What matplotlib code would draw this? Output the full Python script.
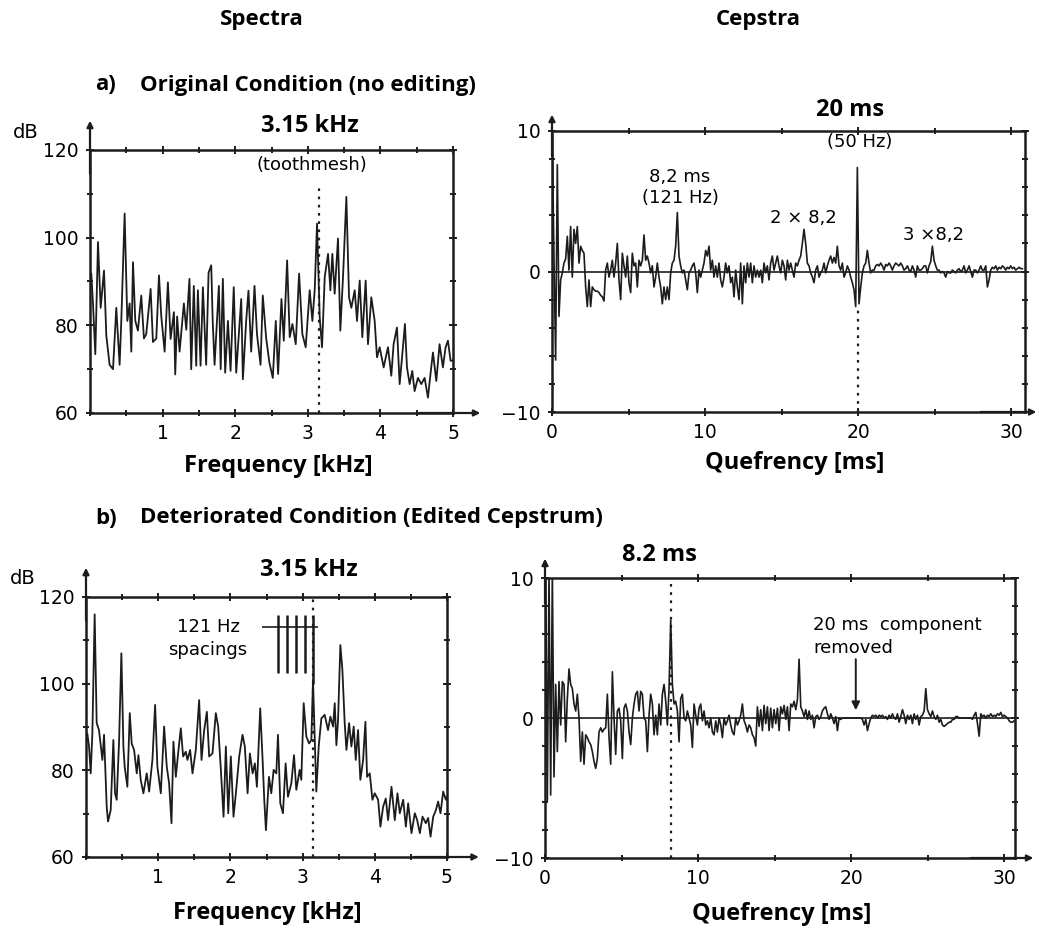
import numpy as np
import matplotlib
matplotlib.use("Agg")
import matplotlib.pyplot as plt

# ---------------- data ----------------
# a) original spectrum (kHz, dB)
freq_a = [0.0, 0.018, 0.041, 0.073, 0.11, 0.147, 0.193, 0.225, 0.27, 0.317,
          0.362, 0.408, 0.431, 0.477, 0.514, 0.546, 0.569, 0.592, 0.624, 0.66,
          0.706, 0.743, 0.775, 0.835, 0.867, 0.913, 0.95, 0.982, 1.028, 1.073,
          1.11, 1.156, 1.174, 1.2, 1.234, 1.293, 1.326, 1.37, 1.394, 1.43,
          1.463, 1.486, 1.523, 1.555, 1.6, 1.633, 1.67, 1.69, 1.716, 1.775,
          1.8, 1.83, 1.862, 1.9, 1.936, 1.98, 2.014, 2.083, 2.106, 2.151,
          2.183, 2.22, 2.266, 2.3, 2.349, 2.38, 2.427, 2.472, 2.518, 2.559,
          2.591, 2.637, 2.669, 2.715, 2.751, 2.788, 2.834, 2.88, 2.925, 2.971,
          3.026, 3.063, 3.095, 3.127, 3.164, 3.196, 3.233, 3.279, 3.311, 3.338,
          3.37, 3.416, 3.448, 3.485, 3.531, 3.568, 3.6, 3.646, 3.678, 3.715,
          3.751, 3.797, 3.829, 3.875, 3.921, 3.953, 3.99, 4.045, 4.104, 4.15,
          4.182, 4.228, 4.265, 4.302, 4.338, 4.366, 4.403, 4.439, 4.471, 4.517,
          4.563, 4.609, 4.655, 4.7, 4.724, 4.77, 4.815, 4.861, 4.898, 4.93,
          4.967, 5.0]
db_a = [90, 91.8, 85, 73.4, 99, 84, 92.5, 77.6, 71, 70,
        84, 71, 81, 105.5, 81, 85, 74, 94.4, 81, 78.8,
        86.8, 77, 78, 88.3, 76.2, 77, 91.4, 82, 74, 89.8,
        76.9, 83, 68.8, 82, 74, 85, 79, 90.6, 70, 89,
        70.8, 88, 70.8, 88.7, 71, 92, 93.7, 81, 71, 89,
        70, 90.6, 69.2, 81, 69.6, 88.7, 69.2, 86, 67.7, 81,
        87.9, 74, 89, 78, 71, 86.8, 77, 71.4, 68, 81,
        68.9, 86, 76.5, 94.8, 77.3, 80.3, 75.7, 91.8, 78, 75,
        88, 81, 88, 103.2, 81.8, 75, 91, 96.3, 88, 96.3,
        87.2, 99.8, 78.8, 91, 109.3, 86.4, 84, 88, 81, 90.2,
        77.3, 90.2, 75.7, 86.4, 81, 72.7, 75, 70.4, 75, 68.5,
        75.7, 79.5, 66.6, 73.4, 80.3, 70.4, 66.6, 69.6, 65, 68,
        66.6, 68, 63.5, 70.4, 73.8, 67.3, 75.7, 70.4, 75, 76.5,
        71.9, 72]

# b) edited spectrum (kHz, dB)
freq_b = [0.0, 0.018, 0.042, 0.065, 0.088, 0.12, 0.148, 0.18, 0.227, 0.25,
          0.287, 0.305, 0.342, 0.379, 0.402, 0.425, 0.458, 0.49, 0.518, 0.536,
          0.573, 0.606, 0.633, 0.666, 0.703, 0.726, 0.758, 0.795, 0.841, 0.874,
          0.92, 0.957, 0.989, 1.036, 1.082, 1.119, 1.151, 1.184, 1.211, 1.244,
          1.276, 1.313, 1.345, 1.382, 1.405, 1.442, 1.475, 1.521, 1.567, 1.6,
          1.637, 1.674, 1.706, 1.752, 1.798, 1.831, 1.868, 1.905, 1.937, 1.97,
          2.006, 2.043, 2.076, 2.122, 2.168, 2.2, 2.238, 2.27, 2.307, 2.339,
          2.367, 2.413, 2.446, 2.469, 2.492, 2.534, 2.566, 2.599, 2.636, 2.659,
          2.691, 2.728, 2.765, 2.797, 2.844, 2.881, 2.913, 2.959, 2.982, 3.015,
          3.052, 3.089, 3.121, 3.144, 3.167, 3.19, 3.223, 3.26, 3.306, 3.352,
          3.385, 3.422, 3.445, 3.468, 3.491, 3.523, 3.551, 3.583, 3.607, 3.644,
          3.676, 3.708, 3.736, 3.768, 3.8, 3.838, 3.87, 3.893, 3.93, 3.967,
          3.999, 4.046, 4.078, 4.115, 4.152, 4.184, 4.231, 4.277, 4.314, 4.346,
          4.393, 4.43, 4.462, 4.508, 4.554, 4.587, 4.624, 4.661, 4.707, 4.739,
          4.772, 4.809, 4.846, 4.877, 4.91, 4.947, 4.984, 5.0]
db_b = [86, 88.5, 85.5, 79.3, 88.5, 116, 90.9, 89.3, 82.4, 88.2,
        71.6, 68.2, 70.8, 87, 74.7, 73.2, 86.6, 107, 85.5, 80.8,
        76.2, 93.2, 86.2, 84.7, 79.3, 83.5, 77.8, 74.7, 79.3, 75.1,
        82.4, 95.1, 80.8, 74.7, 90.1, 80.8, 77, 67.8, 86.6, 78.5,
        83.9, 89.7, 83.2, 84.3, 82.4, 84.7, 79.3, 84.7, 96.2, 82.4,
        89.3, 93.5, 83.2, 83.9, 93.2, 90.1, 80.1, 69.3, 85.5, 70.1,
        83.2, 69.3, 74.7, 83.2, 88.2, 85.5, 74.7, 83.9, 79.3, 81.6,
        76.2, 94.3, 82.4, 73.2, 66.2, 78.5, 74.7, 80.1, 79.3, 88.2,
        72.4, 70.1, 81.6, 73.9, 77, 83.5, 75.5, 80.1, 77.8, 95.5,
        87.8, 86.2, 87, 100.8, 87.8, 75.1, 85.5, 92, 92.8, 89.3,
        92.4, 90.1, 95.5, 85.8, 91.6, 108.9, 103.2, 90.9, 84.7, 90.9,
        85.5, 90.1, 82.4, 89.3, 77.8, 82.4, 91.2, 78.5, 79.3, 73.2,
        74.7, 73.2, 67, 71.6, 73.5, 68.5, 76.2, 68.5, 74.7, 70.1,
        73.2, 67, 72.4, 65.5, 70.1, 68.5, 65.5, 69.3, 67.8, 69,
        64.7, 69.3, 70.8, 72.8, 70.1, 75.1, 73.2, 74]

# cepstra on a uniform quefrency grid (ms): q = q0 + dq * i
dq = 0.1089
q0_a = 0.02
q0_b = 0.044
ceps_a = [9.6, 1.0, -6.3, 7.6, -3.2, -0.6, -0.1, 0.6, 0.9, 2.5,
          0.1, 3.2, -0.4, 3.0, 2.0, 3.2, 0.6, 1.8, 1.5, 1.3,
          -1.1, -2.5, -0.6, -2.5, -1.1, -1.3, -1.4, -1.4, -1.5, -1.7,
          -1.8, -2.1, 0.1, 0.6, -0.4, 0.1, 0.8, -0.4, 0.6, 2.0,
          -0.6, -2.0, 1.3, 0.4, -0.4, 1.1, -0.8, -1.5, 1.3, 0.4,
          0.6, -1.1, 0.8, 0.4, 0.8, 2.6, 0.8, 1.1, 0.6, -0.1,
          0.4, -1.1, -0.4, 0.6, -0.4, -1.1, -2.3, -1.1, -2.0, -1.1,
          -2.0, -0.1, 0.6, 0.8, 1.8, 4.2, 1.1, 0.4, -0.1, 0.1,
          -0.6, -1.3, -0.1, 0.1, 0.4, 0.6, -0.1, -1.5, 0.1, -0.4,
          0.1, 0.6, 1.5, 1.1, 1.8, 0.1, 0.8, -0.4, 0.4, -0.4,
          0.6, -0.6, -1.1, -0.4, 0.6, -0.1, 0.4, -0.8, -0.4, -1.8,
          0.1, -1.1, -2.0, 0.6, -2.3, 0.4, -0.8, 0.6, -0.4, 0.6,
          -0.8, 0.4, -0.4, 0.1,
          -0.4, 0.1, -0.8, 0.6, -0.1, 0.4, -0.6, 0.6, 1.1, 0.1,
          0.6, 1.1, 0.4, -0.1, 0.8, 0.4, -0.6, 0.8, 0.1, 0.6,
          0.1, -0.4, 0.6, 0.4, 0.8, 1.1, 2.0, 3.0, 2.0, 0.6,
          0.4, -0.1, -0.4, -0.8, 0.1, 0.4, -0.4, -0.1, 0.1, 0.6,
          -0.1, 0.4, 0.8, 1.1, 0.6, 1.0, 0.6, 1.8, 0.4, 0.1,
          0.6, -0.4, -0.1, 0.4, 0.1, -0.4, -0.8, -1.3, -2.5, 7.4,
          -2.3, -1.1, -0.1, 0.4, 0.6, 1.5, 0.6, -0.1, 0.1, 0.1,
          0.4, 0.5, 0.4, 0.6, 0.4, 0.1, 0.5, 0.4, 0.6, 0.4,
          0.1, 0.4, 0.6, 0.5, 0.4, 0.6, 0.4, 0.1, 0.2, 0.4,
          0.1, 0.0, 0.4, 0.1, -0.4, 0.4, 0.1, 0.1, 0.2, 0.4,
          0.4, -0.1, 0.4, 0.7, 1.8, 0.8, 0.4, 0.1, 0.1, -0.1,
          0.0, -0.1, -0.4, 0.0, -0.1, -0.1, 0.1, 0.0, -0.1, 0.1,
          0.2, 0.0, 0.1, 0.4, -0.1, 0.1, 0.4, 0.0, -0.4, 0.1,
          0.1, -0.1, 0.1, 0.4, 0.1, 0.1, 0.4, -1.1, -0.6,
          0.1, 0.3, 0.2, 0.4, 0.1, 0.3, 0.2, 0.4, 0.3, 0.1,
          0.3, 0.2, 0.4, 0.2, 0.3, 0.1, 0.2, 0.3, 0.2, 0.2]
ceps_b = [10.5, -5.9, 10.5, -5.5, 10.5, -4.2, 2.4, -2.4, 2.6, -0.5,
          2.6, 2.4, -1.7, 1.4, 3.5, 2.4, 2.1, 1.0, 0.5, 1.7,
          0.0, -3.1, -1.0, -3.3, -1.2, -1.4, -1.7, -1.9, -2.4, -3.1,
          -3.6, -2.9, -1.0, -0.7, -1.0, -0.8, -0.7, 1.7, -1.4, -3.3,
          3.3, 0.0, -2.6, 0.5, 0.7, -0.2, -2.9, 0.7, 1.0, 0.5,
          -1.0, -1.9, 0.0, 1.0, 1.7, 1.9, 0.5, 1.9, 1.7, 0.0,
          -0.2, -2.4, 0.2, 1.7, 1.0, -1.2, 0.2, -1.2, 1.0, -0.5,
          1.7, 2.4, 1.2, -0.5, 2.1, 7.0, 2.4, 1.0, 1.2, 0.5,
          -1.7, 1.4, 1.7, 0.0, -0.2, 0.5, 0.0, -0.5, -2.1, 1.0,
          0.2, -0.5, 0.7, 1.0, -0.2, 0.5, -0.5, -0.2, -0.7, 0.0,
          -1.0, -1.2, -0.2, -1.0, 0.0, -0.5, -1.4, 0.0, -0.5, -0.2,
          0.2, -0.5, -1.0, -1.2, 0.0, -0.5, -0.2, 0.2, 1.0, -0.2,
          -0.5, -1.0, -0.5, -0.7, -1.2, -1.4,
          -2.0, 0.8, -0.6, 0.6, -0.9, 0.9, -0.4, 0.8, -0.9, 0.7,
          -0.7, 0.6, -0.4, 0.7, -0.9, 0.8, 0.3, 0.9, -0.1, 0.8,
          -0.9, 1.0, 0.8, 1.2, 0.6, 1.3, 4.2, 0.8, 0.5, 0.1,
          0.6, -0.1, 0.5, -0.1, 0.2, -0.7, 0.1, 0.2, -0.1, 0.1,
          0.5, 0.7, 0.8, 0.3, -0.1, 0.3, 0.0, -0.4, 0.1, -0.9,
          0.0, -0.1, 0.0, 0.0, 0.0, 0.0, 0.0, 0.0, 0.0, 0.0,
          0.0, 0.0, 0.0, 0.0, -0.1, -0.5, -0.1, -0.9, -0.4, 0.0,
          0.2, 0.1, 0.2, 0.0, 0.2, 0.1, 0.2, 0.0, 0.1, -0.1,
          0.2, 0.0, 0.3, 0.0, -0.1, 0.3, -0.3, 0.1, 0.6, 0.2,
          -0.4, 0.2, -0.1, 0.2, -0.4, 0.3, -0.1, 0.2, -0.5, 0.1,
          0.2, 0.5, 2.1, 0.6, 0.3, 0.1, 0.5, 0.1, -0.1, 0.2,
          -0.3, -0.1, -0.5, -0.6, -0.5, -0.4, -0.3, -0.3, -0.1, -0.1,
          0.1, 0.1, 0.0, 0.0, 0.0, 0.0, 0.0, 0.0, 0.0, 0.0,
          -0.1, 0.2, 0.4, -0.4, -1.3, 0.3, 0.1, 0.2, 0.0,
          0.2, 0.1, 0.3, 0.1, 0.2, 0.1, 0.3, 0.2, 0.4, 0.1,
          0.2, 0.1, 0.0, -0.2, -0.3, -0.3, -0.2]

toothmesh_khz = 3.15
rahmonic_ms = 8.2
line_ms = 20.0
spacing_khz = [2.666, 2.787, 2.908, 3.029, 3.15]

# ---------------- figure ----------------
W, H = 1039, 931
fig = plt.figure(figsize=(W / 100, H / 100), dpi=100)
ink = "#1c1c1c"
tick_font = "DejaVu Sans"
head_font = "Open Sans"
HS = 17      # axis-title size
TS = 16      # section heading size
AS = 13      # annotation size


def px_axes(left, top, right, bottom):
    return fig.add_axes([left / W, 1 - bottom / H, (right - left) / W, (bottom - top) / H])


def ftext(x, y, s, **kw):
    fig.text(x / W, 1 - y / H, s, va="center", **kw)


def frame(ax, xarrow, yarrow):
    for sp in ax.spines.values():
        sp.set_linewidth(1.8)
        sp.set_color(ink)
    ax.tick_params(which="both", direction="inout", top=True, right=True,
                   width=1.4, color=ink, labelsize=13.5, pad=5)
    ax.tick_params(which="major", length=6)
    ax.tick_params(which="minor", length=4)
    for lab in ax.get_xticklabels() + ax.get_yticklabels():
        lab.set_fontfamily(tick_font)
    ax.annotate("", xy=(0, yarrow), xytext=(0, 0.9), xycoords="axes fraction",
                arrowprops=dict(arrowstyle="-|>", lw=1.6, color=ink, mutation_scale=9))
    ax.annotate("", xy=(xarrow, 0), xytext=(0.9, 0), xycoords="axes fraction",
                arrowprops=dict(arrowstyle="-|>", lw=1.6, color=ink, mutation_scale=9))


def spectrum_axes(ax):
    ax.set_xlim(0, 5)
    ax.set_ylim(60, 120)
    ax.set_xticks([1, 2, 3, 4, 5])
    ax.set_xticks(np.arange(0, 5.01, 0.5), minor=True)
    ax.set_yticks([60, 80, 100, 120])
    ax.set_yticks(np.arange(60, 121, 10), minor=True)


def cepstrum_axes(ax, xmax):
    ax.set_xlim(0, xmax)
    ax.set_ylim(-10, 10)
    ax.set_xticks([0, 10, 20, 30])
    ax.set_xticks(np.arange(0, 31, 5), minor=True)
    ax.set_yticks([-10, 0, 10])
    ax.set_yticks(np.arange(-10, 11, 2), minor=True)
    ax.axhline(0, color=ink, lw=1.2, zorder=1)


# a) spectrum
ax1 = px_axes(90, 150, 453, 413)
spectrum_axes(ax1)
ax1.plot(freq_a, db_a, color=ink, lw=1.3)
ax1.vlines(toothmesh_khz, 60, 112.5, colors=ink, linestyles=(0, (1.2, 2.5)), lw=1.6)
ax1.text(3.05, 116.6, "(toothmesh)", ha="center", va="center", fontsize=AS,
         family=tick_font)
ax1.text(3.03, 125.5, "3.15 kHz", ha="center", va="center", fontsize=HS,
         family=head_font, weight="bold", clip_on=False)
frame(ax1, 1.083, 1.122)

# a) cepstrum
ax2 = px_axes(552, 131, 1025, 412)
cepstrum_axes(ax2, 30.9)
q_a = q0_a + dq * np.arange(len(ceps_a))
ax2.plot(q_a, ceps_a, color=ink, lw=1.2, zorder=2)
ax2.vlines(line_ms, -10, -2.5, colors=ink, linestyles=(0, (1.2, 2.5)), lw=1.6)
ax2.text(19.5, 11.5, "20 ms", ha="center", va="center", fontsize=HS,
         family=head_font, weight="bold", clip_on=False)
ax2.text(20.1, 9.2, "(50 Hz)", ha="center", va="center", fontsize=AS, family=tick_font)
ax2.text(8.37, 6.76, "8,2 ms", ha="center", va="center", fontsize=AS, family=tick_font)
ax2.text(8.37, 5.26, "(121 Hz)", ha="center", va="center", fontsize=AS, family=tick_font)
ax2.text(16.4, 3.84, "2 \u00d7 8,2", ha="center", va="center", fontsize=AS, family=tick_font)
ax2.text(24.9, 2.62, "3 \u00d78,2", ha="center", va="center", fontsize=AS, family=tick_font)
frame(ax2, 1.03, 1.068)

# b) spectrum
ax3 = px_axes(86, 597, 447, 857)
spectrum_axes(ax3)
ax3.plot(freq_b, db_b, color=ink, lw=1.3)
ax3.vlines(toothmesh_khz, 60, 120, colors=ink, linestyles=(0, (1.2, 2.5)), lw=1.6)
ax3.vlines(spacing_khz[:-1], 102.4, 115.8, colors=ink, lw=1.8)
ax3.vlines(spacing_khz[-1], 100.0, 115.8, colors=ink, lw=1.8)
ax3.hlines(113.1, 2.437, 3.22, colors=ink, lw=1.2)
ax3.text(1.69, 113.1, "121 Hz", ha="center", va="center", fontsize=AS, family=tick_font)
ax3.text(1.69, 107.8, "spacings", ha="center", va="center", fontsize=AS, family=tick_font)
ax3.text(3.09, 126.2, "3.15 kHz", ha="center", va="center", fontsize=HS,
         family=head_font, weight="bold", clip_on=False)
frame(ax3, 1.096, 1.123)

# b) cepstrum
ax4 = px_axes(545, 578, 1015, 858)
cepstrum_axes(ax4, 30.7)
q_b = q0_b + dq * np.arange(len(ceps_b))
ax4.plot(q_b, ceps_b, color=ink, lw=1.2, zorder=2)
ax4.vlines(rahmonic_ms, -10, 10, colors=ink, linestyles=(0, (1.2, 2.5)), lw=1.6)
ax4.text(7.5, 11.64, "8.2 ms", ha="center", va="center", fontsize=HS,
         family=head_font, weight="bold", clip_on=False)
ax4.text(17.5, 6.64, "20 ms  component", ha="left", va="center", fontsize=AS, family=tick_font)
ax4.text(17.5, 5.0, "removed", ha="left", va="center", fontsize=AS, family=tick_font)
ax4.annotate("", xy=(20.3, 0.36), xytext=(20.3, 4.4),
             arrowprops=dict(arrowstyle="-|>", lw=1.4, color=ink, mutation_scale=12))
frame(ax4, 1.045, 1.079)

# headings and axis titles
ftext(262, 20, "Spectra", ha="center", fontsize=TS, family=head_font, weight="bold")
ftext(758, 20, "Cepstra", ha="center", fontsize=TS, family=head_font, weight="bold")
ftext(95, 85, "a)", ha="left", fontsize=TS, family=head_font, weight="bold")
ftext(140, 85, "Original Condition (no editing)", ha="left", fontsize=TS,
      family=head_font, weight="bold")
ftext(95, 518, "b)", ha="left", fontsize=TS, family=head_font, weight="bold")
ftext(140, 518, "Deteriorated Condition (Edited Cepstrum)", ha="left", fontsize=TS,
      family=head_font, weight="bold")
ftext(278, 466, "Frequency [kHz]", ha="center", fontsize=HS, family=head_font, weight="bold")
ftext(267, 913, "Frequency [kHz]", ha="center", fontsize=HS, family=head_font, weight="bold")
ftext(795, 463, "Quefrency [ms]", ha="center", fontsize=HS, family=head_font, weight="bold")
ftext(782, 914, "Quefrency [ms]", ha="center", fontsize=HS, family=head_font, weight="bold")
ftext(13, 133, "dB", ha="left", fontsize=14, family=tick_font)
ftext(10, 579, "dB", ha="left", fontsize=14, family=tick_font)

fig.savefig("out.png", dpi=100, facecolor="white")
